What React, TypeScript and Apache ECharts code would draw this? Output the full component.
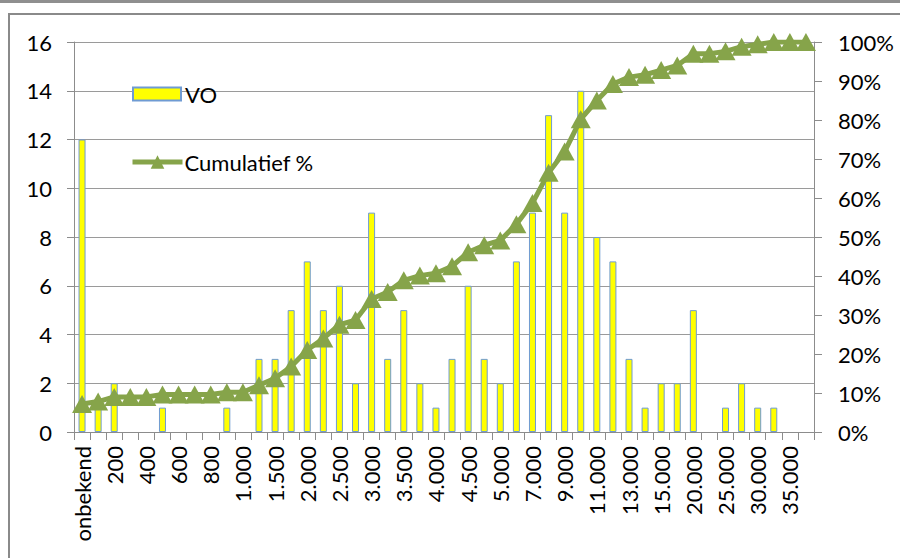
import React, { useEffect, useRef } from "react";
import * as echarts from "echarts";

const categories: string[] = [
  "onbekend", "100", "200", "300", "400", "500", "600", "700", "800", "900",
  "1.000", "1.250", "1.500", "1.750", "2.000", "2.250", "2.500", "2.750", "3.000", "3.250",
  "3.500", "3.750", "4.000", "4.250", "4.500", "4.750", "5.000", "6.000", "7.000", "8.000",
  "9.000", "10.000", "11.000", "12.000", "13.000", "14.000", "15.000", "17.500", "20.000", "22.500",
  "25.000", "27.500", "30.000", "32.500", "35.000", "40.000",
];

const voCounts: number[] = [
  12, 1, 2, 0, 0, 1, 0, 0, 0, 1,
  0, 3, 3, 5, 7, 5, 6, 2, 9, 3,
  5, 2, 1, 3, 6, 3, 2, 7, 9, 13,
  9, 14, 8, 7, 3, 1, 2, 2, 5, 0,
  1, 2, 1, 1, 0, 0,
];

const cumulativePct: number[] = [
  7.2, 7.8, 9.0, 9.0, 9.0, 9.6, 9.6, 9.6, 9.6, 10.2,
  10.2, 12.0, 13.8, 16.8, 21.0, 24.0, 27.5, 28.7, 34.1, 35.9,
  38.9, 40.1, 40.7, 42.5, 46.1, 47.9, 49.1, 53.3, 58.7, 66.5,
  71.9, 80.2, 85.0, 89.2, 91.0, 91.6, 92.8, 94.0, 97.0, 97.0,
  97.6, 98.8, 99.4, 100, 100, 100,
];

const leftTicks = { min: 0, max: 16, interval: 2 };
const rightTicks = { min: 0, max: 100, interval: 10 };

const FONT = "Lato";
const FS = 22;
const GREEN = "#86A44A";

export default function App() {
  const ref = useRef<HTMLDivElement>(null);
  useEffect(() => {
    if (!ref.current) return;
    const chart = echarts.init(ref.current, null, { renderer: "svg" });
    chart.setOption({
      animation: false,
      backgroundColor: "#ffffff",
      textStyle: { fontFamily: FONT, color: "#000" },
      graphic: [
        { type: "rect", shape: { x: 0, y: 0, width: 900, height: 3 }, style: { fill: "#8f8f8f" }, silent: true },
        {
          type: "rect",
          shape: { x: 9, y: 14, width: 900, height: 560 },
          style: { fill: "none", stroke: "#8a8a8a", lineWidth: 2 },
          silent: true,
        },
      ],
      legend: [
        {
          data: [{ name: "VO", icon: "rect" }],
          left: 132,
          top: 83,
          padding: 0,
          itemWidth: 48,
          itemHeight: 13,
          itemGap: 0,
          textStyle: { fontFamily: FONT, fontSize: FS, color: "#000", padding: [0, 0, 0, -1] },
        },
        {
          data: ["Cumulatief %"],
          left: 130,
          top: 151,
          padding: 0,
          itemWidth: 50,
          itemHeight: 17,
          lineStyle: { width: 5 },
          textStyle: { fontFamily: FONT, fontSize: FS, color: "#000", padding: [0, 0, 0, -3] },
        },
      ],
      grid: { left: 74, right: 86, top: 42, bottom: 126, containLabel: false },
      xAxis: {
        type: "category",
        data: categories,
        boundaryGap: true,
        axisLine: { show: true, lineStyle: { color: "#8c8c8c", width: 1 } },
        axisTick: { show: true, interval: 0, length: 8, lineStyle: { color: "#8c8c8c" } },
        axisLabel: {
          interval: 1,
          rotate: 90,
          fontFamily: FONT,
          fontSize: FS,
          color: "#000",
          margin: 14,
        },
      },
      yAxis: [
        {
          type: "value",
          min: leftTicks.min,
          max: leftTicks.max,
          interval: leftTicks.interval,
          axisLine: { show: true, lineStyle: { color: "#8c8c8c" } },
          axisTick: { show: true, length: 7, lineStyle: { color: "#8c8c8c" } },
          splitLine: { show: true, lineStyle: { color: "#9a9a9a", width: 1 } },
          axisLabel: { fontFamily: FONT, fontSize: FS, color: "#000", margin: 22 },
        },
        {
          type: "value",
          min: rightTicks.min,
          max: rightTicks.max,
          interval: rightTicks.interval,
          position: "right",
          axisLine: { show: true, lineStyle: { color: "#8c8c8c" } },
          axisTick: { show: true, length: 8, lineStyle: { color: "#8c8c8c" } },
          splitLine: { show: false },
          axisLabel: { fontFamily: FONT, fontSize: FS, color: "#000", margin: 24, formatter: "{value}%" },
        },
      ],
      series: [
        {
          name: "VO",
          type: "bar",
          data: voCounts.map((v) => (v === 0 ? "-" : v)),
          barWidth: 7,
          yAxisIndex: 0,
          itemStyle: { color: "#FFFF00", borderColor: "#6F9BD3", borderWidth: 1 },
        },
        {
          name: "Cumulatief %",
          type: "line",
          yAxisIndex: 1,
          data: cumulativePct,
          symbol: "triangle",
          symbolSize: [20, 18],
          showAllSymbol: true,
          showSymbol: true,
          lineStyle: { color: GREEN, width: 5 },
          itemStyle: { color: GREEN },
          z: 3,
        },
      ],
    });
    return () => chart.dispose();
  }, []);
  return (
    <div
      ref={ref}
      style={{ position: "absolute", left: 0, top: 0, width: 900, height: 558 }}
    />
  );
}
